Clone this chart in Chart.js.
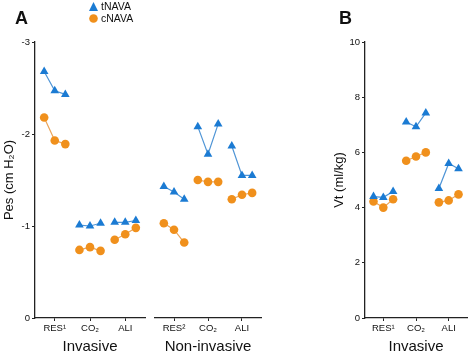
<!DOCTYPE html>
<html>
<head>
<meta charset="utf-8">
<script src="https://cdn.jsdelivr.net/npm/chart.js@4"></script>
<style>
    body { margin: 0; background: #fff; }
    #wrap { position: relative; width: 472px; height: 354px; overflow: hidden; font-family: "Liberation Sans", Arial, sans-serif; }
    canvas { position: absolute; top: 0; }
    .panel { position: absolute; font-weight: bold; font-size: 18px; color: #111; }
    #legend { position: absolute; left: 89px; top: 0px; font-size: 10.5px; color: #111; line-height: 12px; }
    #legend div { display: flex; align-items: center; }
    #legend svg { margin-right: 3px; }
</style>
</head>
<body>
<div id="wrap">
    <canvas id="invasive" width="150" height="354" style="left:0px"></canvas>
    <canvas id="noninvasive" width="116" height="354" style="left:150px"></canvas>
    <canvas id="vt" width="172" height="354" style="left:300px"></canvas>
    <div class="panel" style="left:15px; top:8px">A</div>
    <div class="panel" style="left:339px; top:8px">B</div>
    <div id="legend">
        <div><svg width="9" height="9"><polygon points="4.5,0 9,9 0,9" fill="#1b7bd3"/></svg>tNAVA</div>
        <div><svg width="9" height="9"><circle cx="4.5" cy="4.5" r="4.3" fill="#f0901c"/></svg>cNAVA</div>
    </div>
</div>
<script>
// categories
const invasiveLabels = ['RES¹', 'CO₂', 'ALI'];
const nonInvasiveLabels = ['RES²', 'CO₂', 'ALI'];

// Pes (cm H2O), three points per category
const pesInvasiveT = [[-2.68, -2.47, -2.43], [-1.01, -1.00, -1.03], [-1.04, -1.04, -1.06]];
const pesInvasiveC = [[-2.18, -1.93, -1.89], [-0.74, -0.77, -0.73], [-0.85, -0.91, -0.98]];
const pesNonInvasiveT = [[-1.43, -1.37, -1.29], [-2.08, -1.78, -2.11], [-1.87, -1.55, -1.55]];
const pesNonInvasiveC = [[-1.03, -0.96, -0.82], [-1.50, -1.48, -1.48], [-1.29, -1.34, -1.36]];

// Vt (ml/kg)
const vtT = [[4.40, 4.37, 4.58], [7.10, 6.93, 7.43], [4.69, 5.60, 5.41]];
const vtC = [[4.22, 4.00, 4.30], [5.70, 5.85, 6.00], [4.19, 4.26, 4.48]];

const BLUE = '#1b7bd3';
const ORANGE = '#f0901c';
const POINT_GAP = 0.3;
const FONT = "'Liberation Sans', Arial, sans-serif";

// spread the 3 values of each category around its position, break the line between groups
function buildPoints(groups) {
    const pts = [];
    groups.forEach((vals, i) => {
        vals.forEach((v, j) => pts.push({ x: i + (j - 1) * POINT_GAP, y: v }));
        pts.push({ x: i + 0.5, y: null });
    });
    return pts;
}

function series(groups, color, lineColor, style, radius) {
    return {
        data: buildPoints(groups),
        borderColor: lineColor,
        borderWidth: 1.2,
        backgroundColor: color,
        pointBackgroundColor: color,
        pointBorderColor: color,
        pointBorderWidth: 0,
        pointStyle: style,
        pointRadius: radius,
        spanGaps: false
    };
}

function makeChart(id, cfg) {
    const ctx = document.getElementById(id).getContext('2d');
    return new Chart(ctx, {
        type: 'line',
        data: {
            datasets: [
                series(cfg.tData, BLUE, '#4f95d6', 'triangle', 5),
                series(cfg.cData, ORANGE, '#eba55a', 'circle', 4.3)
            ]
        },
        options: {
            responsive: false,
            animation: false,
            devicePixelRatio: 1,
            layout: { padding: cfg.padding },
            plugins: { legend: { display: false }, tooltip: { enabled: false } },
            scales: {
                x: {
                    type: 'linear',
                    min: -0.56,
                    max: 2.56,
                    afterBuildTicks: s => { s.ticks = [0, 1, 2].map(v => ({ value: v })); },
                    afterFit: s => { s.height = 36; },
                    ticks: {
                        callback: v => cfg.labels[v],
                        font: { family: FONT, size: 9.5 },
                        color: '#111',
                        padding: 2,
                        maxRotation: 0
                    },
                    grid: { drawOnChartArea: false, tickLength: 3, color: '#222', lineWidth: 1 },
                    border: { display: true, color: '#222', width: 1.3 },
                    title: {
                        display: cfg.xTitle !== '',
                        text: cfg.xTitle,
                        font: { family: FONT, size: 15, lineHeight: 1 },
                        color: '#111',
                        padding: { top: 0, bottom: 0 }
                    }
                },
                y: {
                    display: cfg.yDisplay,
                    min: cfg.yMin,
                    max: cfg.yMax,
                    reverse: cfg.yReverse,
                    afterFit: s => { s.width = cfg.yWidth; },
                    ticks: {
                        stepSize: cfg.yStep,
                        font: { family: FONT, size: 9.5 },
                        color: '#111',
                        padding: 2
                    },
                    grid: { drawOnChartArea: false, tickLength: 3, color: '#222', lineWidth: 1 },
                    border: { display: true, color: '#222', width: 1.3 },
                    title: {
                        display: cfg.yTitle !== '',
                        text: cfg.yTitle,
                        font: { family: FONT, size: 13, lineHeight: 1 },
                        color: '#111',
                        padding: { top: 3, bottom: 0 }
                    }
                }
            }
        }
    });
}

makeChart('invasive', {
    tData: pesInvasiveT, cData: pesInvasiveC, labels: invasiveLabels,
    xTitle: 'Invasive', yTitle: 'Pes (cm H₂O)', yDisplay: true,
    yMin: -3, yMax: 0, yReverse: true, yStep: 1, yWidth: 35,
    padding: { top: 42, left: 0, right: 4, bottom: 0 }
});

makeChart('noninvasive', {
    tData: pesNonInvasiveT, cData: pesNonInvasiveC, labels: nonInvasiveLabels,
    xTitle: 'Non-invasive', yTitle: '', yDisplay: false,
    yMin: -3, yMax: 0, yReverse: true, yStep: 1, yWidth: 0,
    padding: { top: 42, left: 4, right: 4, bottom: 0 }
});

makeChart('vt', {
    tData: vtT, cData: vtC, labels: invasiveLabels,
    xTitle: 'Invasive', yTitle: 'Vt (ml/kg)', yDisplay: true,
    yMin: 0, yMax: 10, yReverse: false, yStep: 2, yWidth: 35,
    padding: { top: 42, left: 30, right: 2, bottom: 0 }
});
</script>
</body>
</html>
